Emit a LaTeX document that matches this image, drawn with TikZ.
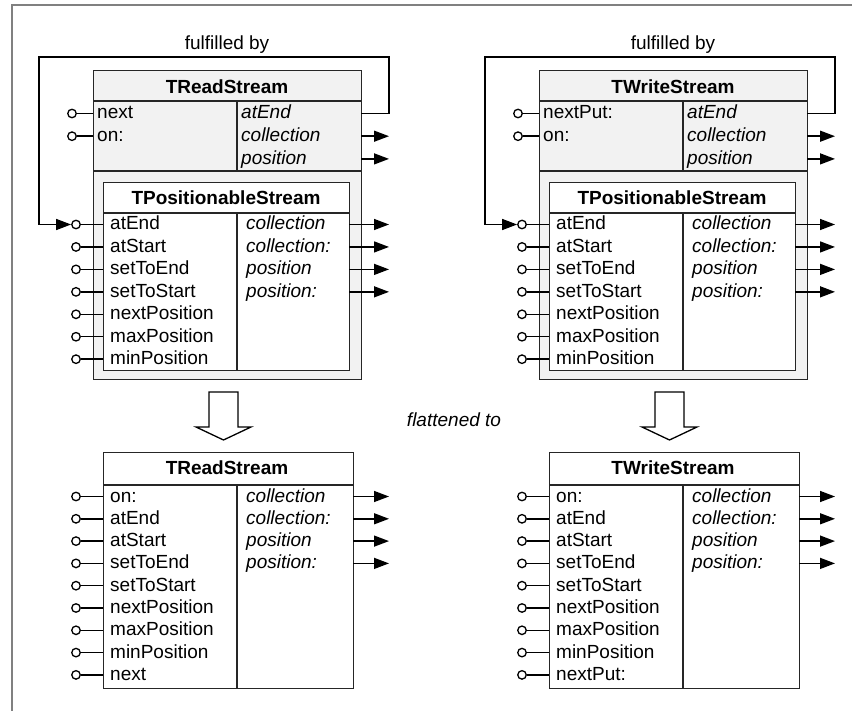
\documentclass[tikz,border=0pt]{standalone}
\usepackage{fontspec}
\setmainfont{Liberation Sans}
\usetikzlibrary{arrows.meta}
\tikzset{
  boxline/.style={draw=black!85, line width=1.4pt},
  graybox/.style={boxline, fill=black!5, anchor=north west, inner sep=0pt},
  whitebox/.style={boxline, fill=white, anchor=north west, inner sep=0pt},
  titletext/.style={font=\fontsize{19}{22}\selectfont\bfseries, anchor=base, inner sep=0pt},
  mtext/.style={font=\fontsize{19}{22}\selectfont, anchor=base west, inner sep=0pt},
  atext/.style={font=\fontsize{19}{22}\selectfont\itshape, anchor=base west, inner sep=0pt},
  lobe/.style={circle, draw=black, line width=1.3pt, fill=white, minimum size=8.5pt, inner sep=0pt},
  wire/.style={draw=black, line width=1.4pt},
  outarrow/.style={wire, -{Triangle[length=15pt,width=11pt]}},
  hollow/.style={draw=black, line width=1.3pt, fill=white, line join=miter},
  frameline/.style={draw=black!50, line width=1.6pt},
  label/.style={font=\fontsize{19}{22}\selectfont, anchor=base, inner sep=0pt},
}
\newcommand\streamgroup[4]{%
  % ---- label over feedback loop
  \node[label] (#1ful) at (227,50) {fulfilled by};
  % ---- outer (gray) box
  \node[graybox, minimum width=268pt, minimum height=309pt] (#1outer) at (93,70) {};
  \node[titletext] (#1otitle) at (227,93.5) {#2};
  \draw[boxline] (93,101) -- (361,101);
  \draw[boxline] (93,171) -- (361,171);
  \draw[boxline] (237,101) -- (237,171);
  % upper methods
  \foreach \i/\t in {1/#3,2/on:}{
    \pgfmathsetmacro\yy{113.5+22.7*(\i-1)}
    \node[lobe] (#1uc\i) at (72,\yy) {};
    \coordinate (#1ue\i) at (93,\yy);
    \draw[wire] (#1uc\i) -- (#1ue\i);
    \node[mtext] (#1um\i) at (97,\yy+5.5) {\t};
  }
  \foreach \i/\t in {1/atEnd,2/collection,3/position}{
    \pgfmathsetmacro\yy{113.5+22.7*(\i-1)}
    \node[atext] (#1ua\i) at (241,\yy+5.5) {\t};
    \coordinate (#1ur\i) at (361,\yy);
    \coordinate (#1ut\i) at (389,\yy);
  }
  \draw[outarrow] (#1ur2) -- (#1ut2);
  \draw[outarrow] (#1ur3) -- (#1ut3);
  % ---- inner TPositionableStream box
  \node[whitebox, minimum width=246pt, minimum height=188pt] (#1inner) at (103,182) {};
  \node[titletext] (#1ititle) at (226,205) {TPositionableStream};
  \draw[boxline] (103,213) -- (349,213);
  \draw[boxline] (237,213) -- (237,370);
  \foreach \i/\t in {1/atEnd,2/atStart,3/setToEnd,4/setToStart,5/nextPosition,6/maxPosition,7/minPosition}{
    \pgfmathsetmacro\yy{224.5+22.45*(\i-1)}
    \node[lobe] (#1ic\i) at (76,\yy) {};
    \coordinate (#1ie\i) at (103,\yy);
    \draw[wire] (#1ic\i) -- (#1ie\i);
    \node[mtext] (#1im\i) at (110,\yy+5.5) {\t};
  }
  \foreach \i/\t in {1/collection,2/collection:,3/position,4/position:}{
    \pgfmathsetmacro\yy{224.5+22.45*(\i-1)}
    \node[atext] (#1ia\i) at (246,\yy+5.5) {\t};
    \coordinate (#1ir\i) at (349,\yy);
    \coordinate (#1it\i) at (389,\yy);
    \draw[outarrow] (#1ir\i) -- (#1it\i);
  }
  % ---- feedback loop: atEnd fulfilled by atEnd
  \coordinate (#1lpA) at (389,57);
  \coordinate (#1lpB) at (39,57);
  \coordinate (#1lpC) at (39,224.5);
  \draw[outarrow, line join=miter] (#1ur1) -- (#1ut1) -- (#1lpA) -- (#1lpB) -- (#1lpC) -- (#1ic1);
  % ---- hollow arrow
  \draw[hollow] (209,392) -- (238,392) -- (238,427) -- (251,427) -- (223.5,440) -- (196,427) -- (209,427) -- cycle;
  % ---- flattened box
  \node[whitebox, minimum width=250pt, minimum height=236pt] (#1flat) at (103,452) {};
  \node[titletext] (#1ftitle) at (227,475) {#2};
  \draw[boxline] (103,485) -- (353,485);
  \draw[boxline] (237,485) -- (237,688);
  \foreach \i/\t in {1/on:,2/atEnd,3/atStart,4/setToEnd,5/setToStart,6/nextPosition,7/maxPosition,8/minPosition,9/#4}{
    \pgfmathsetmacro\yy{496.5+22.3*(\i-1)}
    \node[lobe] (#1fc\i) at (76,\yy) {};
    \coordinate (#1fe\i) at (103,\yy);
    \draw[wire] (#1fc\i) -- (#1fe\i);
    \node[mtext] (#1fm\i) at (110,\yy+5.5) {\t};
  }
  \foreach \i/\t in {1/collection,2/collection:,3/position,4/position:}{
    \pgfmathsetmacro\yy{496.5+22.3*(\i-1)}
    \node[atext] (#1fa\i) at (246,\yy+5.5) {\t};
    \coordinate (#1fr\i) at (353,\yy);
    \coordinate (#1ft\i) at (389,\yy);
    \draw[outarrow] (#1fr\i) -- (#1ft\i);
  }
}
\begin{document}
\begin{tikzpicture}[x=1pt, y=-1pt]
  \useasboundingbox (0,0) rectangle (852,711);
  \coordinate (frA) at (12,711);
  \coordinate (frB) at (12,5);
  \coordinate (frC) at (852,5);
  \draw[frameline] (frA) -- (frB) -- (frC);
  \streamgroup{L}{TReadStream}{next}{next}
  \begin{scope}[xshift=446pt]
    \streamgroup{R}{TWriteStream}{nextPut:}{nextPut:}
  \end{scope}
  \node[label, font=\fontsize{19}{22}\selectfont\itshape] (flat) at (454,427) {flattened to};
\end{tikzpicture}
\end{document}
